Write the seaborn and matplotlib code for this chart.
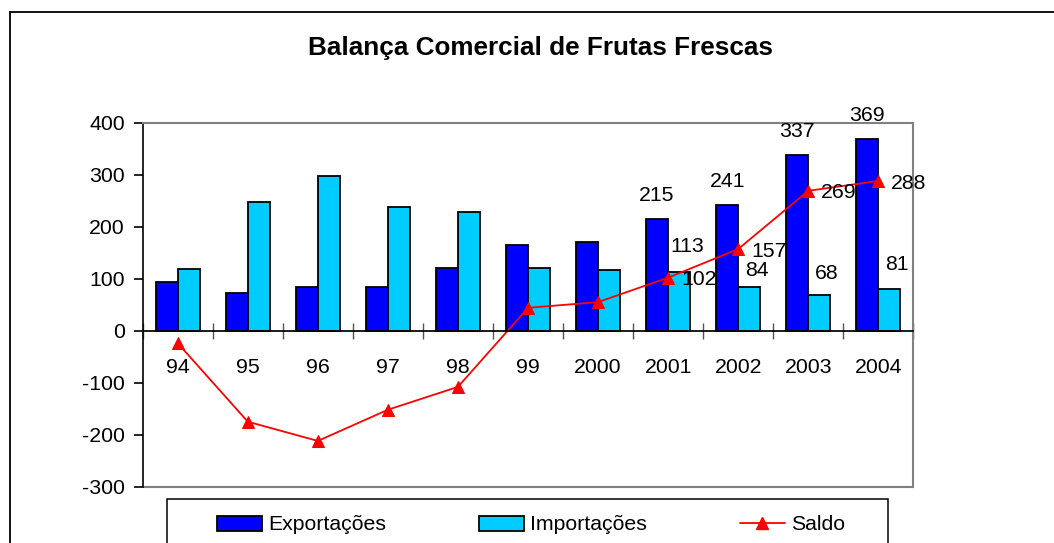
import numpy as np
import pandas as pd
import seaborn as sns
import matplotlib.pyplot as plt
from matplotlib.patches import Patch, Rectangle
from matplotlib.lines import Line2D

# dados
anos = ['94', '95', '96', '97', '98', '99', '2000', '2001', '2002', '2003', '2004']
exportacoes = [94, 72, 85, 85, 120, 164, 171, 215, 241, 337, 369]
importacoes = [118, 247, 297, 237, 228, 120, 116, 113, 84, 68, 81]
saldo = [-24, -175, -212, -152, -108, 44, 55, 102, 157, 269, 288]
anos_rotulados = ['2001', '2002', '2003', '2004']

sns.set_theme(style='white', rc={'text.color': 'black', 'axes.labelcolor': 'black',
                                 'xtick.color': 'black', 'ytick.color': 'black',
                                 'axes.unicode_minus': False})
plt.rcParams['font.family'] = ['Liberation Sans', 'DejaVu Sans']

cor_exp = '#0000FF'
cor_imp = '#00CCFF'
cor_saldo = '#FF0000'
fs = 15.3

df = pd.DataFrame({
    'Ano': anos * 2,
    'Tipo': ['Exportações'] * len(anos) + ['Importações'] * len(anos),
    'Valor': exportacoes + importacoes,
})

fig = plt.figure(figsize=(10.54, 5.43), dpi=100)
ax = fig.add_axes([142.7 / 1054, 1 - 486.7 / 543, 770.6 / 1054, 364 / 543])

sns.barplot(data=df, x='Ano', y='Valor', hue='Tipo', order=anos,
            hue_order=['Exportações', 'Importações'],
            palette={'Exportações': cor_exp, 'Importações': cor_imp},
            width=0.63, saturation=1, edgecolor='black', linewidth=1.3,
            errorbar=None, legend=False, ax=ax)

pos = np.arange(len(anos))
sns.lineplot(x=pos, y=saldo, color=cor_saldo, marker='^', markersize=9,
             markeredgecolor=cor_saldo, linewidth=1.3, ax=ax)

ax.set_xlim(-0.5, len(anos) - 0.5)
ax.set_ylim(-300, 400)
ax.set_yticks(range(-300, 401, 100))
ax.set_xlabel('')
ax.set_ylabel('')

# eixo x cruzando no zero
ax.spines['bottom'].set_position(('data', 0))
ax.spines['bottom'].set_color('black')
ax.spines['left'].set_color('black')
ax.spines['left'].set_linewidth(1.2)
for s in ['top', 'right']:
    ax.spines[s].set_color('#808080')
    ax.spines[s].set_linewidth(1.5)
ax.axhline(-300, color='#808080', lw=1.5, clip_on=False)

ax.set_xticks(pos)
ax.set_xticklabels(anos)
ax.set_xticks(np.arange(-0.5, len(anos)), minor=True)
ax.tick_params(axis='x', which='major', length=0, pad=19.5, labelsize=fs)
ax.tick_params(axis='x', which='minor', bottom=True, direction='inout', length=11, width=1, color='#555555')
ax.tick_params(axis='y', left=True, direction='out', length=6.3, width=1.2, pad=6.5, labelsize=fs)

# rótulos de dados (deslocamento vertical dos rótulos de importação, em pontos)
dy_imp = {'2001': 18, '2002': 12, '2003': 15.5, '2004': 17}
for i, ano in enumerate(anos):
    if ano not in anos_rotulados:
        continue
    ax.annotate(str(exportacoes[i]), (i - 0.1575, exportacoes[i]), xytext=(0, 17),
                textcoords='offset points', ha='center', va='center', fontsize=fs)
    ax.annotate(str(importacoes[i]), (i + 0.1575, importacoes[i]), xytext=(5.5, dy_imp[ano]),
                textcoords='offset points', ha='center', va='center', fontsize=fs)
    ax.annotate(str(saldo[i]), (i, saldo[i]), xytext=(22, -1.5),
                textcoords='offset points', ha='center', va='center', fontsize=fs)

fig.text(540 / 1054, 1 - 48 / 543, 'Balança Comercial de Frutas Frescas',
         ha='center', va='center', fontsize=18.8, fontweight='bold')

# borda externa do gráfico
fig.patches.append(Rectangle((10 / 1054, -0.2), 2, 1.2 - 12 / 543, transform=fig.transFigure,
                             fill=False, edgecolor='black', lw=1.3))
# caixa da legenda
fig.patches.append(Rectangle((166.7 / 1054, -0.2), (887.7 - 166.7) / 1054, 0.2 + 1 - 499.3 / 543,
                             transform=fig.transFigure, fill=False, edgecolor='black', lw=1.1))

handles = [
    Patch(facecolor=cor_exp, edgecolor='black', linewidth=1.3),
    Patch(facecolor=cor_imp, edgecolor='black', linewidth=1.3),
    Line2D([], [], color=cor_saldo, marker='^', markersize=9, lw=1.3),
]
fig.legend(handles, ['Exportações', 'Importações', 'Saldo'], ncol=3,
           loc='center left', bbox_to_anchor=(217 / 1054, 1 - 525 / 543, (845 - 217) / 1054, 0),
           mode='expand', fontsize=fs, frameon=False, handlelength=2.1, handleheight=0.7,
           handletextpad=0.3, borderpad=0, borderaxespad=0)

fig.savefig('out.png', dpi=100)
